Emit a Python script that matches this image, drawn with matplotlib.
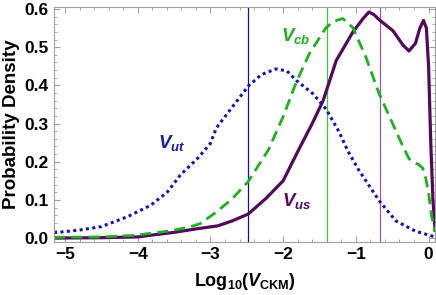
import numpy as np
import matplotlib
matplotlib.use("Agg")
import matplotlib.pyplot as plt
from matplotlib.ticker import MultipleLocator

plt.rcParams['font.family'] = ['Liberation Sans', 'DejaVu Sans']
plt.rcParams['mathtext.fontset'] = 'custom'
plt.rcParams['mathtext.rm'] = 'Liberation Sans:bold'
plt.rcParams['mathtext.bf'] = 'Liberation Sans:bold'
plt.rcParams['mathtext.it'] = 'Liberation Sans:bold:italic'

# V_us (solid purple)
us_x = [-5.15, -4.5, -4.0, -3.8, -3.5, -3.2, -2.9, -2.7, -2.48, -2.23, -2.0, -1.79,
        -1.6, -1.45, -1.27, -1.04, -0.9, -0.82, -0.75, -0.68, -0.49, -0.35, -0.27,
        -0.18, -0.12, -0.07, -0.03, 0.0, 0.03, 0.06, 0.09]
us_y = [0.0, 0.001, 0.003, 0.008, 0.015, 0.024, 0.032, 0.045, 0.063, 0.105, 0.15, 0.23,
        0.30, 0.36, 0.465, 0.54, 0.575, 0.592, 0.585, 0.572, 0.543, 0.505, 0.49,
        0.51, 0.55, 0.57, 0.55, 0.45, 0.25, 0.1, 0.02]

# V_cb (dashed green)
cb_x = [-5.15, -4.5, -4.05, -3.59, -3.3, -3.14, -2.92, -2.7, -2.48, -2.2, -2.0, -1.82,
        -1.64, -1.41, -1.3, -1.18, -1.04, -0.86, -0.68, -0.49, -0.36, -0.27, -0.2,
        -0.14, -0.08, -0.04, 0.0, 0.04, 0.09]
cb_y = [0.002, 0.003, 0.007, 0.018, 0.028, 0.038, 0.068, 0.103, 0.148, 0.232, 0.318, 0.408,
        0.483, 0.551, 0.568, 0.575, 0.551, 0.473, 0.378, 0.298, 0.243, 0.208, 0.198,
        0.193, 0.183, 0.158, 0.118, 0.058, 0.018]

# V_ut (dotted blue)
ut_x = [-5.15, -4.8, -4.5, -4.14, -3.82, -3.59, -3.41, -3.18, -3.0, -2.92, -2.64, -2.48,
        -2.3, -2.1, -1.95, -1.82, -1.59, -1.41, -1.23, -1.11, -0.96, -0.82, -0.68,
        -0.45, -0.18, 0.09]
ut_y = [0.014, 0.021, 0.030, 0.056, 0.086, 0.121, 0.166, 0.208, 0.248, 0.288, 0.358, 0.398,
        0.428, 0.443, 0.438, 0.413, 0.378, 0.338, 0.278, 0.228, 0.178, 0.138, 0.098,
        0.045, 0.018, 0.003]

# vertical reference lines
vlines = {'ut': -2.48, 'cb': -1.40, 'us': -0.67}

fig = plt.figure(figsize=(4.36, 2.95), dpi=100)
ax = fig.add_axes([0.124, 0.18, 0.874, 0.796])

ax.axvline(vlines['ut'], color='#1010b0', lw=0.9)
ax.axvline(vlines['cb'], color='#33cc33', lw=0.9)
ax.axvline(vlines['us'], color='#9a5aa8', lw=0.9)

ax.plot(us_x, us_y, color='#520a5a', lw=2.3, solid_joinstyle='round')
ax.plot(cb_x, cb_y, color='#1fb01f', lw=2.0, linestyle=(0, (4, 2.2)))
ax.plot(ut_x, ut_y, color='#1515b0', lw=2.2, linestyle=(0, (1, 1.1)))

ax.text(-3.53, 0.25, r'$V_{ut}$', color='#1a1aa8', fontsize=13.5, ha='center', va='center')
ax.text(-1.83, 0.53, r'$V_{cb}$', color='#22aa22', fontsize=13.5, ha='center', va='center')
ax.text(-1.82, 0.097, r'$V_{us}$', color='#5a0a60', fontsize=13.5, ha='center', va='center')

ax.set_xlim(-5.15, 0.09)
ax.set_ylim(-0.01, 0.605)
ax.xaxis.set_major_locator(MultipleLocator(1))
ax.xaxis.set_minor_locator(MultipleLocator(0.2))
ax.yaxis.set_major_locator(MultipleLocator(0.1))
ax.yaxis.set_minor_locator(MultipleLocator(0.02))
ax.yaxis.set_major_formatter(plt.FuncFormatter(lambda v, p: f"{v:.1f}"))

for s in ax.spines.values():
    s.set_color('#a0a0a0')
    s.set_linewidth(0.8)
ax.tick_params(which='both', direction='in', top=True, right=True, color='#a0a0a0')
ax.tick_params(which='major', length=4.5, width=0.8, labelsize=12.5, pad=4)
ax.tick_params(which='minor', length=2.5, width=0.6)
for lab in ax.get_xticklabels() + ax.get_yticklabels():
    lab.set_fontweight('bold')

ax.set_xlabel(r'$\mathrm{Log}_{10}(V_{\mathrm{CKM}})$', fontsize=13, labelpad=6)
ax.set_ylabel('Probability Density', fontsize=13.5, fontweight='bold', labelpad=3)

fig.savefig('out.png', dpi=100)
